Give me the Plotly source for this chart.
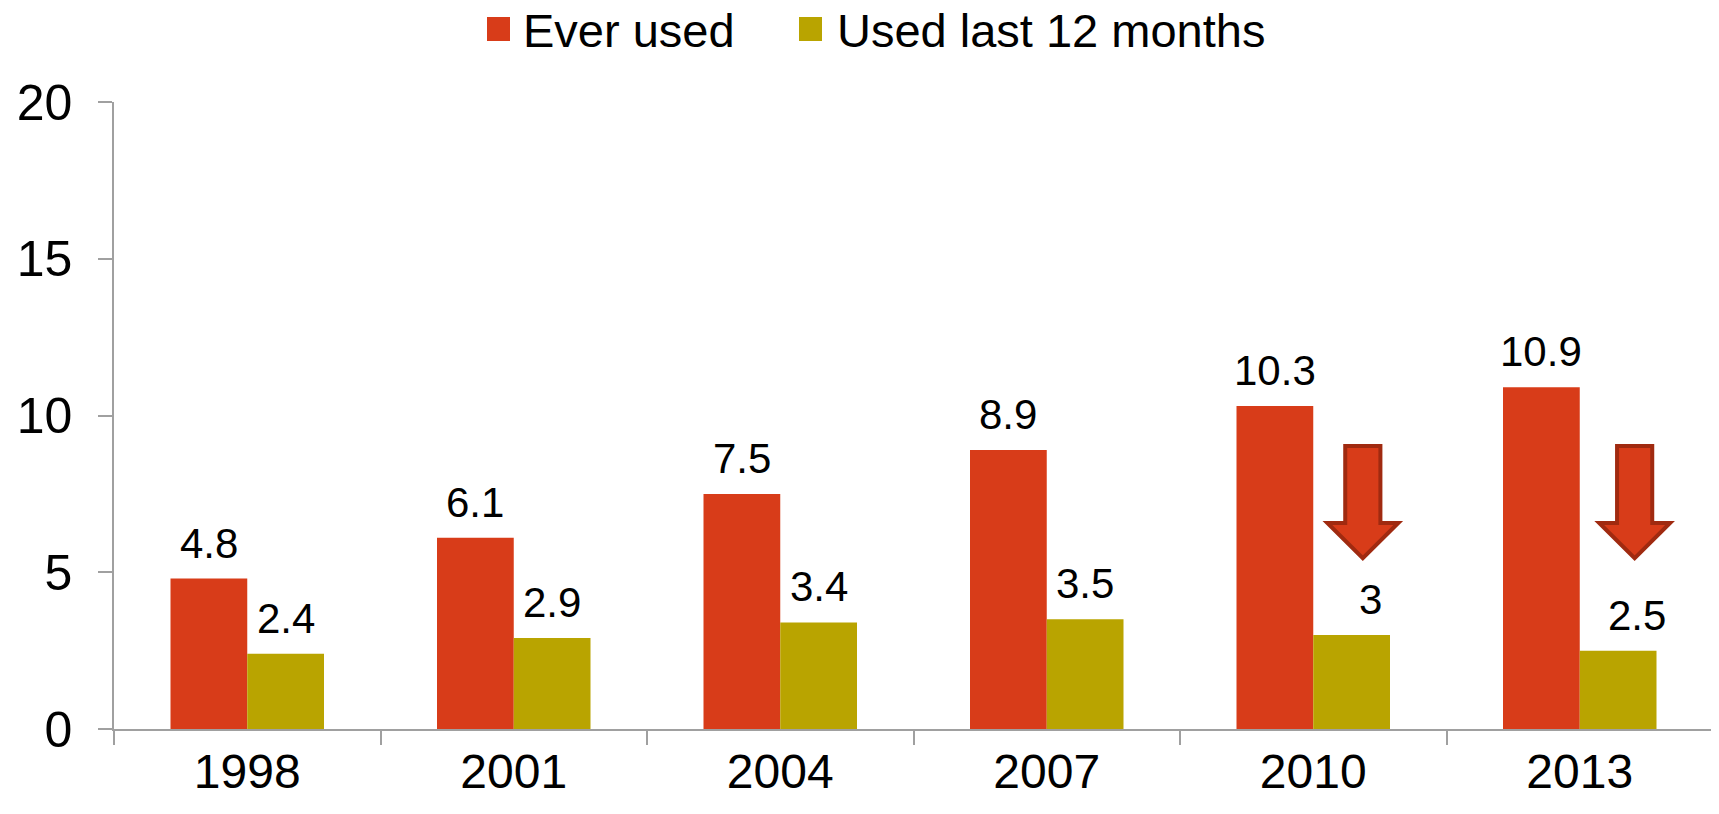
import plotly.graph_objects as go

years = ["1998", "2001", "2004", "2007", "2010", "2013"]
ever_used = [4.8, 6.1, 7.5, 8.9, 10.3, 10.9]
last_12 = [2.4, 2.9, 3.4, 3.5, 3.0, 2.5]
ever_labels = ["4.8", "6.1", "7.5", "8.9", "10.3", "10.9"]
last_labels = ["2.4", "2.9", "3.4", "3.5", "3", "2.5"]
series_names = ["Ever used", "Used last 12 months"]
# down-arrow annotations: category index, horizontal offset, top, head start, tip
arrow_cat = [4, 5]
arrow_off = [0.186, 0.206]
arrow_top = [9.03, 9.03]
arrow_head = [6.57, 6.57]
arrow_tip = [5.45, 5.45]

RED = "#D83C19"
OLIVE = "#B9A400"
FONT = "Arial, Liberation Sans, sans-serif"
AX = "#A0A0A0"
W, H = 1719, 814
OFF = 8  # default page body margin
# desired plot-area edges on the screenshot
PL, PR, PT, PB = 114, 1713, 102, 729
ML = PL - OFF
MT = PT - OFF
MR = W - (PR - OFF)
MB = H - (PB - OFF)

BARGAP = 0.424
half = (1 - BARGAP) / 4  # offset from category center to each bar center

fig = go.Figure()
fig.add_trace(go.Bar(x=years, y=ever_used, name=series_names[0], marker_color=RED,
                     marker_line_width=0, showlegend=False))
fig.add_trace(go.Bar(x=years, y=last_12, name=series_names[1], marker_color=OLIVE,
                     marker_line_width=0, showlegend=False))
# invisible trace to activate numeric overlay axis
fig.add_trace(go.Scatter(x=[-0.5, 5.5], y=[0, 0], xaxis="x2", mode="markers",
                         marker_opacity=0, showlegend=False, hoverinfo="skip"))

lab_font = dict(size=42, color="black", family=FONT)
annotations = []
for i, (v, t) in enumerate(zip(ever_used, ever_labels)):
    annotations.append(dict(x=i - half, y=v, xref="x2", yref="y", text=t, showarrow=False,
                            yanchor="bottom", yshift=10, font=lab_font))
for i, (v, t) in enumerate(zip(last_12, last_labels)):
    xs = 0.07 if i >= 4 else 0.0
    annotations.append(dict(x=i + half + xs, y=v, xref="x2", yref="y", text=t, showarrow=False,
                            yanchor="bottom", yshift=10, font=lab_font))

shapes = []
for c, o, top, hd, tip in zip(arrow_cat, arrow_off, arrow_top, arrow_head, arrow_tip):
    cx = c + o
    sw = 0.066
    hw = 0.133
    path = (f"M {cx-sw},{top} L {cx+sw},{top} L {cx+sw},{hd} L {cx+hw},{hd} "
            f"L {cx},{tip} L {cx-hw},{hd} L {cx-sw},{hd} Z")
    shapes.append(dict(type="path", path=path, xref="x2", yref="y",
                       fillcolor=RED, line=dict(color="#A02A10", width=4), layer="above"))

# custom legend (large square swatches), positioned in screenshot pixels -> paper coords
def px(xp):
    return (xp - PL) / (PR - PL)

def py(yp):
    return (PB - yp) / (PB - PT)

leg_sq_x = [487, 799]
leg_txt_x = [522, 836]
for name, col, sx, tx in zip(series_names, [RED, OLIVE], leg_sq_x, leg_txt_x):
    shapes.append(dict(type="rect", xref="paper", yref="paper",
                       x0=px(sx), x1=px(sx + 23), y0=py(41), y1=py(17),
                       fillcolor=col, line=dict(width=0)))
    annotations.append(dict(x=px(tx), y=py(30), xref="paper", yref="paper", text=name,
                            showarrow=False, xanchor="left", yanchor="middle", borderpad=0,
                            font=dict(size=47, family=FONT, color="black")))

fig.update_layout(
    width=W, height=H,
    margin=dict(l=ML, r=MR, t=MT, b=MB),
    paper_bgcolor="white", plot_bgcolor="white",
    barmode="group", bargap=BARGAP, bargroupgap=0,
    font=dict(family=FONT, color="black"),
    showlegend=False,
    xaxis=dict(type="category", range=[-0.5, 5.5], tickson="boundaries", ticks="outside",
               ticklen=14, tickcolor=AX, tickwidth=1.5, showline=True, linecolor=AX,
               linewidth=1.5, showgrid=False, tickfont=dict(size=48, family=FONT),
               zeroline=False, automargin=False),
    xaxis2=dict(overlaying="x", range=[-0.5, 5.5], visible=False, showgrid=False,
                automargin=False),
    yaxis=dict(range=[0, 20], dtick=5, ticks="outside", ticklen=14, tickcolor=AX,
               tickwidth=1.5, showline=True, linecolor=AX, linewidth=1.5, showgrid=False,
               zeroline=False, tickfont=dict(size=50, family=FONT), ticklabelstandoff=16,
               automargin=False),
    annotations=annotations,
    shapes=shapes,
)
fig.write_html("out.html")
